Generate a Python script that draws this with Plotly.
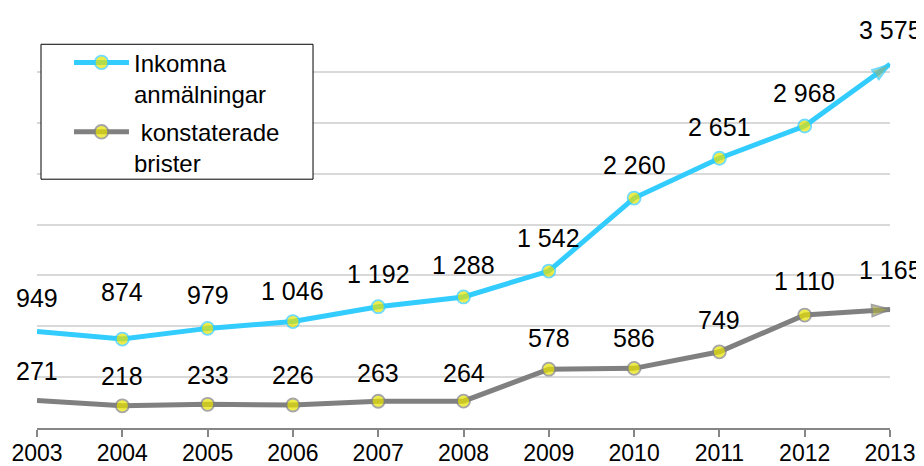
import plotly.graph_objects as go

years = [2003, 2004, 2005, 2006, 2007, 2008, 2009, 2010, 2011, 2012, 2013]
inkomna = [949, 874, 979, 1046, 1192, 1288, 1542, 2260, 2651, 2968, 3575]
brister = [271, 218, 233, 226, 263, 264, 578, 586, 749, 1110, 1165]

# how far each value label sits above its point (px)
inkomna_shift = [33, 47, 33, 31, 33, 32, 33, 33, 31, 33, 34]
brister_shift = [29, 30, 29, 30, 28, 28, 31, 30, 32, 34, 39]

blue = '#33ccff'
grey = '#808080'
yellow = '#e8e400'
font = 'Arial, Liberation Sans, sans-serif'


def fmt(v):
    return f'{v:,}'.replace(',', ' ')


fig = go.Figure()
n = len(years)
fig.add_trace(go.Scatter(x=years, y=inkomna, name='Inkomna<br>anmälningar', mode='lines+markers',
                         legendgroup='a', line=dict(color=blue, width=5), cliponaxis=False,
                         marker=dict(symbol=['circle'] * (n - 1) + ['arrow'], angleref='previous',
                                     size=[13] * (n - 1) + [19], color=[yellow] * (n - 1) + ['#86b88a'],
                                     line=dict(color=blue, width=1.8))))
fig.add_trace(go.Scatter(x=years, y=brister, name=' konstaterade<br>brister', mode='lines+markers',
                         legendgroup='b', line=dict(color=grey, width=5), cliponaxis=False,
                         marker=dict(symbol=['circle'] * (n - 1) + ['arrow'], angleref='previous',
                                     size=[13] * (n - 1) + [19], color=[yellow] * (n - 1) + ['#a8a848'],
                                     line=dict(color=grey, width=1.8))))

for x, v, s in zip(years, inkomna, inkomna_shift):
    fig.add_annotation(x=x, y=v, text=fmt(v), showarrow=False, yshift=s,
                       font=dict(size=25, color='black', family=font))
for x, v, s in zip(years, brister, brister_shift):
    fig.add_annotation(x=x, y=v, text=fmt(v), showarrow=False, yshift=s,
                       font=dict(size=25, color='black', family=font))

# legend frame drawn separately so it can be wider than the entries
fig.add_shape(type='rect', xref='paper', yref='paper', x0=0.0047, x1=0.3236, y0=0.6113, y1=0.9428,
              line=dict(color='black', width=1), fillcolor='white', layer='above')

# page body has an 8px margin, so the figure is shrunk by that much
fig.update_layout(width=916, height=458, paper_bgcolor='white', plot_bgcolor='white',
                  margin=dict(l=29, r=34, t=13, b=38), font=dict(family=font, size=24, color='black'),
                  legend=dict(x=0.0375, y=0.9526, xanchor='left', yanchor='top',
                              bgcolor='rgba(0,0,0,0)', borderwidth=0, valign='top', itemwidth=55,
                              tracegroupgap=4, font=dict(size=24, family=font)))
fig.update_xaxes(range=[2003, 2013], tickvals=years, showgrid=False, zeroline=False, automargin=False,
                 showline=True, linecolor='#868686', linewidth=1.5,
                 ticks='outside', ticklen=7, tickcolor='#868686', tickwidth=1.5,
                 ticklabelstandoff=-3, tickfont=dict(size=23, color='black'))
fig.update_yaxes(range=[0, 4000], dtick=500, showticklabels=False, showline=False, zeroline=False,
                 automargin=False, gridcolor='#d9d9d9', gridwidth=1.5)

fig.write_html('out.html')
